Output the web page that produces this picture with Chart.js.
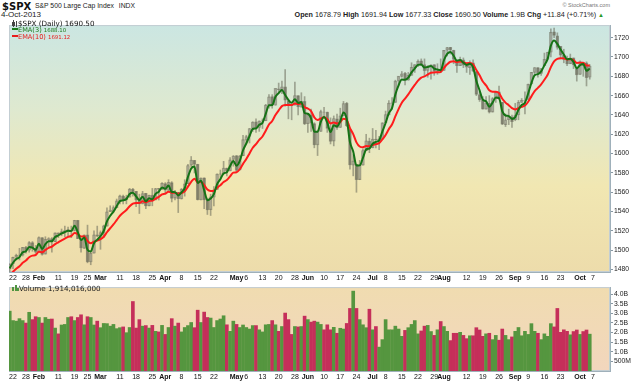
<!DOCTYPE html>
<html>
<head>
<meta charset="utf-8">
<script src="https://cdn.jsdelivr.net/npm/chart.js@4.4.1/dist/chart.umd.min.js"></script>
<style>
  body { margin: 0; width: 640px; height: 382px; overflow: hidden; position: relative; background: #fff;
         font-family: 'Liberation Sans', Arial, sans-serif; color: #111; }
  canvas { position: absolute; left: 0; }
  #price { top: 20px; }
  #vol { top: 282px; }
  .t { position: absolute; white-space: nowrap; line-height: 1; }
  .lg { font-family: 'DejaVu Sans', Verdana, sans-serif; }
</style>
</head>
<body>
<div class="t" style="left:2px;top:1px;font:bold 10px 'DejaVu Sans',sans-serif;">$SPX</div>
<div class="t" style="left:35px;top:3px;font-size:6.8px;color:#222;">S&amp;P 500 Large Cap Index <span style="margin-left:3px">INDX</span></div>
<div class="t" style="right:30px;top:3px;font-size:5.5px;color:#777;">© StockCharts.com</div>
<div class="t" style="left:1px;top:11px;font-size:8px;color:#222;">4-Oct-2013</div>
<div class="t" style="right:36px;top:11px;font-size:7.2px;color:#222;">
  <b>Open</b> 1678.79 <b>High</b> 1691.94 <b>Low</b> 1677.33 <b>Close</b> 1690.50 <b>Volume</b> 1.9B <b>Chg</b> +11.84 (+0.71%) <span style="color:#2a9a2a;font-size:6px">▲</span>
</div>

<canvas id="price" width="640" height="264"></canvas>
<canvas id="vol" width="640" height="100"></canvas>

<div class="t lg" style="left:12px;top:20px;font-size:7.2px;">
  <span style="display:inline-block;position:relative;width:6px;height:7px;vertical-align:-1px;">
    <span style="position:absolute;left:1px;top:0;width:1px;height:7px;background:#444"></span>
    <span style="position:absolute;left:0;top:2px;width:3px;height:4px;background:#444"></span>
    <span style="position:absolute;left:4px;top:1px;width:1px;height:6px;background:#444"></span>
  </span>$SPX (Daily) 1690.50
</div>
<div class="t lg" style="left:12px;top:27px;font-size:6.6px;color:#1b7a1b;">
  <span style="display:inline-block;width:6px;height:2px;background:#1b7a1b;vertical-align:2px"></span>EMA(3) <span style="font-size:5.4px">1688.10</span>
</div>
<div class="t lg" style="left:12px;top:34px;font-size:6.6px;color:#e81c1c;">
  <span style="display:inline-block;width:6px;height:2px;background:#e81c1c;vertical-align:2px"></span>EMA(10) <span style="font-size:5.4px">1691.12</span>
</div>
<div class="t lg" style="left:12px;top:285px;font-size:7.2px;color:#222;">
  <span style="display:inline-block;position:relative;width:7px;height:6px;vertical-align:0px;">
    <span style="position:absolute;left:0;bottom:0;width:2px;height:4px;background:#4f9440"></span>
    <span style="position:absolute;left:2.5px;bottom:0;width:2px;height:6px;background:#4f9440"></span>
    <span style="position:absolute;left:5px;bottom:0;width:2px;height:3px;background:#4f9440"></span>
  </span>Volume 1,914,016,000
</div>

<script>
// trading days shown (Jan 18 sits just off the left edge, Oct 7 is an empty slot for the last tick)
const dates = [
  '1/18','1/22','1/23','1/24','1/25','1/28','1/29','1/30','1/31',
  '2/1','2/4','2/5','2/6','2/7','2/8','2/11','2/12','2/13','2/14','2/15','2/19','2/20','2/21','2/22','2/25','2/26','2/27','2/28',
  '3/1','3/4','3/5','3/6','3/7','3/8','3/11','3/12','3/13','3/14','3/15','3/18','3/19','3/20','3/21','3/22','3/25','3/26','3/27','3/28',
  '4/1','4/2','4/3','4/4','4/5','4/8','4/9','4/10','4/11','4/12','4/15','4/16','4/17','4/18','4/19','4/22','4/23','4/24','4/25','4/26','4/29','4/30',
  '5/1','5/2','5/3','5/6','5/7','5/8','5/9','5/10','5/13','5/14','5/15','5/16','5/17','5/20','5/21','5/22','5/23','5/24','5/28','5/29','5/30','5/31',
  '6/3','6/4','6/5','6/6','6/7','6/10','6/11','6/12','6/13','6/14','6/17','6/18','6/19','6/20','6/21','6/24','6/25','6/26','6/27','6/28',
  '7/1','7/2','7/3','7/5','7/8','7/9','7/10','7/11','7/12','7/15','7/16','7/17','7/18','7/19','7/22','7/23','7/24','7/25','7/26','7/29','7/30','7/31',
  '8/1','8/2','8/5','8/6','8/7','8/8','8/9','8/12','8/13','8/14','8/15','8/16','8/19','8/20','8/21','8/22','8/23','8/26','8/27','8/28','8/29','8/30',
  '9/3','9/4','9/5','9/6','9/9','9/10','9/11','9/12','9/13','9/16','9/17','9/18','9/19','9/20','9/23','9/24','9/25','9/26','9/27','9/30',
  '10/1','10/2','10/3','10/4','10/7'
];

const opens = [
  1481,1486,1493,1495,1495,1503,1500,1508,1502,
  1498,1513,1496,1511,1512,1509,1518,1517,1519,1520,1521,1520,1531,1512,1502,1516,1488,1497,1516,
  1515,1518,1525,1540,1541,1544,1551,1556,1552,1555,1563,1561,1552,1548,1559,1546,1557,1552,1564,1563,
  1569,1562,1570,1554,1560,1553,1563,1569,1588,1593,1589,1552,1575,1552,1542,1555,1563,1579,1579,1585,1582,1594,
  1598,1583,1598,1614,1618,1626,1633,1627,1634,1634,1650,1659,1650,1667,1666,1669,1655,1651,1650,1660,1648,1654,
  1631,1640,1631,1609,1623,1643,1643,1626,1613,1636,1627,1639,1652,1625,1588,1589,1573,1588,1603,1613,
  1606,1615,1614,1615,1632,1640,1652,1653,1675,1680,1683,1676,1681,1689,1692,1696,1692,1686,1690,1692,1685,1686,
  1686,1707,1710,1707,1697,1691,1697,1691,1689,1694,1685,1661,1656,1646,1652,1643,1657,1664,1653,1630,1635,1638,
  1635,1640,1653,1655,1656,1672,1684,1689,1683,1691,1698,1705,1726,1722,1711,1702,1697,1693,1699,1688,
  1682,1691,1694,1679
];
const highs = [
  1486,1493,1496,1502,1503,1504,1509,1509,1505,
  1514,1513,1514,1513,1513,1518,1518,1522,1525,1524,1525,1531,1531,1512,1516,1526,1499,1520,1525,
  1520,1526,1544,1546,1546,1553,1557,1557,1557,1564,1564,1561,1558,1561,1559,1557,1564,1564,1564,1570,
  1570,1573,1571,1562,1560,1564,1573,1589,1597,1593,1589,1575,1575,1554,1558,1566,1579,1583,1592,1585,1596,1598,
  1598,1598,1619,1619,1626,1633,1636,1634,1636,1651,1661,1661,1667,1673,1675,1687,1655,1651,1674,1660,1663,1659,
  1641,1646,1632,1623,1645,1648,1643,1637,1639,1641,1647,1654,1653,1625,1599,1589,1593,1605,1620,1616,
  1626,1624,1618,1632,1644,1655,1658,1676,1680,1685,1684,1684,1694,1692,1697,1698,1698,1691,1692,1692,1693,1698,
  1707,1710,1710,1707,1697,1700,1699,1691,1696,1697,1685,1664,1659,1659,1660,1658,1664,1670,1653,1641,1646,1640,
  1652,1655,1657,1664,1672,1684,1689,1689,1688,1704,1705,1729,1730,1725,1711,1708,1701,1703,1699,1688,
  1696,1694,1695,1692
];
const lows = [
  1476,1481,1490,1490,1494,1497,1498,1499,1497,
  1498,1495,1496,1504,1498,1509,1513,1515,1514,1514,1513,1520,1512,1498,1502,1487,1485,1497,1514,
  1501,1513,1525,1540,1539,1544,1548,1548,1548,1555,1556,1545,1538,1548,1543,1546,1546,1552,1552,1563,
  1558,1562,1550,1552,1539,1553,1556,1569,1586,1580,1552,1552,1543,1537,1536,1546,1563,1575,1579,1577,1582,1587,
  1582,1583,1598,1611,1611,1623,1622,1623,1626,1634,1647,1647,1650,1663,1662,1649,1636,1635,1650,1640,1648,1630,
  1622,1623,1606,1598,1623,1639,1622,1610,1608,1625,1627,1639,1628,1584,1577,1560,1573,1588,1603,1601,
  1606,1606,1604,1615,1632,1640,1646,1653,1670,1679,1671,1676,1681,1684,1690,1691,1681,1679,1677,1681,1682,1684,
  1686,1701,1703,1693,1684,1691,1689,1684,1682,1685,1660,1654,1646,1646,1642,1643,1653,1656,1630,1628,1630,1627,
  1634,1635,1653,1641,1656,1672,1681,1679,1681,1691,1697,1700,1720,1708,1698,1694,1691,1693,1688,1675,
  1682,1680,1670,1677
];
const closes = [
  1485.98,1492.56,1494.81,1494.82,1502.96,1500.18,1507.84,1501.96,1498.11,
  1513.17,1495.71,1511.29,1512.12,1509.39,1517.93,1517.01,1519.43,1520.33,1521.38,1519.79,1530.94,1511.95,1502.42,1515.60,1487.85,1496.94,1515.99,1514.68,
  1518.20,1525.20,1539.79,1541.46,1544.26,1551.18,1556.22,1552.48,1554.52,1563.23,1560.70,1552.10,1548.34,1558.71,1545.80,1556.89,1551.69,1563.77,1562.85,1569.19,
  1562.17,1570.25,1553.69,1559.98,1553.28,1563.07,1568.61,1587.73,1593.37,1588.85,1552.36,1574.57,1552.01,1541.61,1555.25,1562.50,1578.78,1578.79,1585.16,1582.24,1593.61,1597.57,
  1582.70,1597.59,1614.42,1617.50,1625.96,1632.69,1626.67,1633.70,1633.77,1650.34,1658.78,1650.47,1667.47,1666.29,1669.16,1655.35,1650.51,1649.60,1660.06,1648.36,1654.41,1630.74,
  1640.42,1631.38,1608.90,1622.56,1643.38,1642.81,1626.13,1612.52,1636.36,1626.73,1639.04,1651.81,1628.93,1588.19,1592.43,1573.09,1588.03,1603.26,1613.20,1606.28,
  1614.96,1614.08,1615.41,1631.89,1640.46,1652.32,1652.62,1675.02,1680.19,1682.50,1676.26,1680.91,1689.37,1692.09,1695.53,1692.39,1685.94,1690.25,1691.65,1685.33,1685.96,1685.73,
  1706.87,1709.67,1707.14,1697.37,1690.91,1697.48,1691.42,1689.47,1694.16,1685.39,1661.32,1655.83,1646.06,1652.35,1642.80,1656.96,1663.50,1656.78,1630.48,1634.96,1638.17,1632.97,
  1639.77,1653.08,1655.08,1655.17,1671.71,1683.99,1689.13,1683.42,1687.99,1697.60,1704.76,1725.52,1722.34,1709.91,1701.84,1697.42,1692.77,1698.67,1691.75,1681.55,
  1695.00,1693.87,1678.66,1690.50
];
// volume in billions of shares
const volumes = [
  3.11,2.62,2.59,2.72,2.62,2.49,3.05,2.67,2.82,
  2.78,2.49,2.78,2.69,2.70,2.23,1.93,2.39,2.42,2.78,2.82,2.62,2.78,2.92,2.40,2.82,2.78,2.39,2.59,
  2.25,2.47,2.46,2.33,2.42,2.20,2.25,2.29,1.99,2.26,3.61,2.23,2.67,2.33,2.36,2.23,2.37,2.06,2.03,2.37,
  1.90,2.26,2.72,2.33,2.49,2.03,2.26,2.36,2.52,2.25,3.16,2.52,3.06,2.78,2.75,2.26,2.62,2.70,2.87,2.40,2.06,2.59,
  2.42,2.26,2.39,2.26,2.18,2.36,2.36,2.14,2.03,2.40,2.42,2.62,2.40,2.06,2.31,3.01,2.67,1.90,2.31,2.29,2.31,2.85,
  2.67,2.54,2.59,2.54,2.42,2.14,2.40,2.14,2.27,1.96,2.22,2.18,2.47,3.25,4.15,3.25,2.67,2.40,2.25,3.21,
  2.14,2.31,1.24,1.63,2.67,2.14,2.14,2.33,2.18,1.80,2.11,2.25,2.42,2.62,1.93,2.08,2.33,2.37,2.05,1.85,2.14,2.57,
  2.31,2.06,1.58,1.96,1.96,2.01,1.85,1.68,1.83,1.83,2.25,2.13,1.80,1.93,1.96,1.63,1.85,1.60,2.18,1.85,1.63,1.77,
  2.06,2.26,1.83,2.06,1.90,2.46,2.06,1.96,1.63,1.93,1.80,2.46,2.29,3.25,2.01,2.14,2.06,1.88,2.05,2.13,
  1.90,2.05,2.13,1.914
];

// EMA values on the session before the first bar
const ema3Seed = 1477;
const ema10Seed = 1472;

const tickDates = ['1/22','1/28','2/1','2/11','2/19','2/25','3/1','3/11','3/18','3/25','4/1','4/8','4/15','4/22',
  '5/1','5/6','5/13','5/20','5/28','6/3','6/10','6/17','6/24','7/1','7/8','7/15','7/22','7/29','8/1','8/12','8/19','8/26',
  '9/3','9/9','9/16','9/23','10/1','10/7'];
const tickText = ['22','28','Feb','11','19','25','Mar','11','18','25','Apr','8','15','22',
  'May','6','13','20','28','Jun','10','17','24','Jul','8','15','22','29','Aug','12','19','26',
  'Sep','9','16','23','Oct','7'];
const priceTicks = [1480,1500,1520,1540,1560,1580,1600,1620,1640,1660,1680,1700,1720];
const volumeTicks = [0.5,1.0,1.5,2.0,2.5,3.0,3.5,4.0];

function ema(src, n, seed) {
  const k = 2 / (n + 1);
  let e = seed;
  return src.map(c => (e = e + k * (c - e)));
}
const ema3 = ema(closes, 3, ema3Seed);
const ema10 = ema(closes, 10, ema10Seed);

const family = "'Liberation Sans', Arial, sans-serif";
const xMin = -0.23, xMax = 185.25;
const edge = 'rgba(105,105,90,0.55)';

const panelBg = {
  id: 'panelBg',
  beforeDraw(chart, args, opts) {
    const { ctx, chartArea: a } = chart;
    const g = ctx.createLinearGradient(0, a.top, 0, a.bottom);
    opts.stops.forEach(s => g.addColorStop(s[0], s[1]));
    ctx.save();
    ctx.fillStyle = g;
    ctx.fillRect(a.left, a.top, a.right - a.left, a.bottom - a.top);
    ctx.strokeStyle = '#c3ced3';
    ctx.lineWidth = 1;
    ctx.strokeRect(a.left + 0.5, a.top + 0.5, a.right - a.left - 1, a.bottom - a.top - 1);
    ctx.restore();
  }
};

function xAxis() {
  return {
    type: 'linear', min: xMin, max: xMax, offset: false,
    grid: { display: false, drawTicks: false },
    border: { display: true, color: '#9fb0ba', dash: [1, 2] },
    afterBuildTicks: s => { s.ticks = tickDates.map(d => ({ value: dates.indexOf(d) })); },
    ticks: {
      autoSkip: false, maxRotation: 0, padding: 2, color: '#111',
      font: c => ({ family, size: 7, weight: /\d/.test(tickText[c.index]) ? 'normal' : 'bold' }),
      callback: (v, i) => tickText[i]
    }
  };
}

const px = xAxis();
px.afterFit = s => { s.height = 12; };

new Chart(document.getElementById('price'), {
  type: 'bar',
  data: {
    datasets: [
      {
        type: 'line', data: ema3.map((v, i) => ({ x: i, y: v })),
        borderColor: '#157215', borderWidth: 2, pointRadius: 0,
        cubicInterpolationMode: 'monotone', order: 0
      },
      {
        type: 'line', data: ema10.map((v, i) => ({ x: i, y: v })),
        borderColor: '#ff1c1c', borderWidth: 2, pointRadius: 0,
        cubicInterpolationMode: 'monotone', order: 1
      },
      {
        data: closes.map((c, i) => ({ x: i, y: [opens[i], c] })),
        barThickness: 3, grouped: false, order: 2,
        backgroundColor: c => closes[c.dataIndex] >= opens[c.dataIndex] ? 'rgba(255,255,255,0.15)' : 'rgba(105,105,90,0.5)',
        borderColor: edge, borderWidth: 0.8, borderSkipped: false
      },
      {
        data: closes.map((c, i) => ({ x: i, y: [lows[i], highs[i]] })),
        barThickness: 1, grouped: false, order: 3,
        backgroundColor: edge
      }
    ]
  },
  options: {
    responsive: false,
    animation: false,
    devicePixelRatio: 1,
    layout: { padding: { left: 9, top: 1, right: 0, bottom: 0 } },
    plugins: {
      legend: { display: false },
      tooltip: { enabled: false },
      panelBg: { stops: [[0, '#cbe6e2'], [0.35, '#dfe9cf'], [0.65, '#f1e7b2'], [1, '#eddcab']] }
    },
    scales: {
      x: px,
      y: {
        type: 'linear', position: 'right', min: 1477.5, max: 1733,
        grid: { display: true, drawOnChartArea: false, drawTicks: true, tickLength: 3, color: '#8797a2' },
        border: { display: true, color: '#9fb0ba', dash: [1, 2] },
        afterBuildTicks: s => { s.ticks = priceTicks.map(v => ({ value: v })); },
        afterFit: s => { s.width = 30; },
        ticks: { padding: 1, color: '#222', font: { family, size: 6.8 }, callback: v => String(v) }
      }
    }
  },
  plugins: [panelBg]
});

const vx = xAxis();
vx.afterFit = s => { s.height = 11; };

new Chart(document.getElementById('vol'), {
  type: 'bar',
  data: {
    datasets: [{
      data: volumes.map((v, i) => ({ x: i, y: v })),
      barThickness: 3,
      backgroundColor: c => {
        const i = c.dataIndex;
        return i === 0 || closes[i] >= closes[i - 1] ? '#55963f' : '#c52f5a';
      }
    }]
  },
  options: {
    responsive: false,
    animation: false,
    devicePixelRatio: 1,
    layout: { padding: { left: 9, top: 1, right: 0, bottom: 0 } },
    plugins: {
      legend: { display: false },
      tooltip: { enabled: false },
      panelBg: { stops: [[0, '#f0dcb0'], [1, '#f2d6bd']] }
    },
    scales: {
      x: vx,
      y: {
        type: 'linear', position: 'right', min: 0, max: 4.36,
        grid: { display: true, drawOnChartArea: false, drawTicks: true, tickLength: 3, color: '#8797a2' },
        border: { display: true, color: '#9fb0ba', dash: [1, 2] },
        afterBuildTicks: s => { s.ticks = volumeTicks.map(v => ({ value: v })); },
        afterFit: s => { s.width = 30; },
        ticks: {
          padding: 1, color: '#222', font: { family, size: 6.8 },
          callback: v => v < 1 ? Math.round(v * 1000) + 'M' : v.toFixed(1) + 'B'
        }
      }
    }
  },
  plugins: [panelBg]
});
</script>
</body>
</html>
